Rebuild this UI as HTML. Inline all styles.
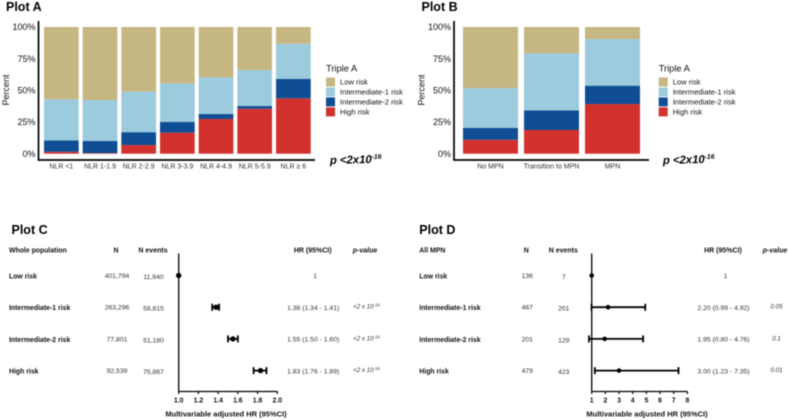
<!DOCTYPE html>
<html>
<head>
<meta charset="utf-8">
<title>Triple A risk plots</title>
<style>
html,body{margin:0;padding:0;background:#fff;width:790px;height:420px;overflow:hidden}
svg{display:block;filter:blur(0.4px)}
text{font-family:"Liberation Sans",Arial,sans-serif}
</style>
</head>
<body>
<svg id="fig" xmlns="http://www.w3.org/2000/svg" width="790" height="420" viewBox="0 0 790 420">
<text x="6" y="11" font-size="12.5" font-weight="bold" fill="#000">Plot A</text>
<text x="421.5" y="11" font-size="12.5" font-weight="bold" fill="#000">Plot B</text>
<text x="11.5" y="234" font-size="12.5" font-weight="bold" fill="#000">Plot C</text>
<text x="419.3" y="234" font-size="12.5" font-weight="bold" fill="#000">Plot D</text>
<text x="330" y="164" font-size="11.3" font-weight="bold" font-style="italic" fill="#000" transform="rotate(-1.5 330 164)">p &lt;2x10<tspan font-size="6.8" dy="-4">-16</tspan></text>
<text x="663" y="164" font-size="11.3" font-weight="bold" font-style="italic" fill="#000" transform="rotate(-1.5 663 164)">p &lt;2x10<tspan font-size="6.8" dy="-4">-16</tspan></text>
</svg>
<script>
// Plot A data (percent, stacked from the bottom)
var catsA = ['NLR <1','NLR 1-1.9','NLR 2-2.9','NLR 3-3.9','NLR 4-4.9','NLR 5-5.9','NLR \u2265 6'];
var highA = [1.5,0.5,6.8,16.6,27.4,35.5,43.7];
var int2A = [9,9.5,10.2,8.4,3.9,2.1,15.3];
var int1A = [32.5,32.4,32,30.5,29,28.4,27.8];
var lowA  = [57,57.6,51,44.5,39.7,34,13.2];
// Plot B data
var catsB = ['No MPN','Transition to MPN','MPN'];
var highB = [11,18.7,39.2];
var int2B = [9.3,15.5,14.5];
var int1B = [31.5,45,36.8];
var lowB  = [48.2,20.8,9.5];
var yTickValues = [0,25,50,75,100];
var riskNames = ['Low risk','Intermediate-1 risk','Intermediate-2 risk','High risk'];
var riskColors = ['#c6b682','#9bcbdd','#0f4e94','#d3312e'];
// Plot C data
var rowNames = ['Low risk','Intermediate-1 risk','Intermediate-2 risk','High risk'];
var nC = ['401,794','263,296','77,801','92,539'];
var eventsC = ['11,940','58,815','51,180','75,867'];
var hrTextC = ['1','1.38 (1.34 - 1.41)','1.55 (1.50 - 1.60)','1.83 (1.76 - 1.89)'];
var pBaseC = ['','<2 x 10','<2 x 10','<2 x 10'];
var pExpC = ['','-16','-16','-16'];
var hrC = [1,1.38,1.55,1.83];
var loC = [1,1.34,1.50,1.76];
var hiC = [1,1.41,1.60,1.89];
var xTicksC = [1.0,1.2,1.4,1.6,1.8,2.0];
// Plot D data
var nD = ['136','467','201','479'];
var eventsD = ['7','201','129','423'];
var hrTextD = ['1','2.20 (0.99 - 4.92)','1.95 (0.80 - 4.76)','3.00 (1.23 - 7.35)'];
var pBaseD = ['','0.05','0.1','0.01'];
var pExpD = ['','','',''];
var hrD = [1,2.20,1.95,3.00];
var loD = [1,0.99,0.80,1.23];
var hiD = [1,4.92,4.76,7.35];
var xTicksD = [1,2,3,4,5,6,7,8];

var svg = document.getElementById('fig');
var NS = 'http://www.w3.org/2000/svg';
function mk(tag, attrs, parent){
  var e = document.createElementNS(NS, tag);
  for (var k in attrs) e.setAttribute(k, attrs[k]);
  (parent || svg).appendChild(e);
  return e;
}
function txt(s, x, y, size, anchor, fill, weight, style){
  var t = mk('text', {x:x, y:y, 'font-size':size, 'text-anchor':anchor || 'start', fill:fill || '#111', 'font-weight':weight || 'normal', 'font-style':style || 'normal'});
  t.textContent = s;
  return t;
}

function stacked(opts){
  var yOf = function(v){ return 153.7 - v * 1.267; };
  var xOf = function(i){ return opts.x0 + i * opts.step; };
  var ax = mk('path', {d:'M'+opts.axisX+' 21V160H'+opts.axisEnd, fill:'none', stroke:'#000', 'stroke-width':1.7});
  
  
  yTickValues.forEach(function(v){
    var t = txt(v + '%', opts.axisX - 3, yOf(v) + 3.2, 9, 'end', '#111');
    
    
  });
  var yt = txt('Percent', 0, 0, 9, 'middle', '#111');
  yt.setAttribute('transform', 'translate(' + (opts.axisX - 29.5) + ' 90) rotate(-90)');
  
  
  opts.cats.forEach(function(c, i){
    var cum = 0;
    var parts = [opts.high[i], opts.int2[i], opts.int1[i], opts.low[i]];
    var cols = [3, 2, 1, 0];
    parts.forEach(function(v, j){
      var r = mk('rect', {x:xOf(i), y:yOf(cum + v), width:opts.w, height:v * 1.267, fill:riskColors[cols[j]]});
      
      
      cum += v;
    });
    var l = txt(c, xOf(i) + opts.w / 2, 168.3, 7, 'middle', '#333');
    
    
  });
  var lt = txt('Triple A', opts.legX, 71.5, 9.3, 'start', '#111');
  
  
  riskNames.forEach(function(n, i){
    var s = mk('rect', {x:opts.legX, y:77.5 + i * 9.95, width:9, height:9, fill:riskColors[i]});
    
    
    var t = txt(n, opts.legX + 14, 84.7 + i * 9.95, 7.6, 'start', '#111');
    
    
  });
}

stacked({id:'plot-a', cats:catsA, high:highA, int2:int2A, int1:int1A, low:lowA, x0:44, step:38.67, w:34.7, axisX:38.5, axisEnd:315, legX:326});
stacked({id:'plot-b', cats:catsB, high:highB, int2:int2B, int1:int1B, low:lowB, x0:463, step:61, w:55, axisX:454, axisEnd:649, legX:658.7});

function forest(o){
  var xOf = function(v){ return o.x1 + (v - o.v0) * o.scale; };
  var rowY = function(i){ return 275.5 + i * 31.7; };
  var heads = [['N', o.nX, 'middle', 'normal'], ['N events', o.evX, 'middle', 'normal'], ['HR (95%CI)', o.hrX, 'middle', 'normal'], ['p-value', o.pX, 'middle', 'italic']];
  var h0 = txt(o.head, o.labX, 252.7, 6.9, 'start', '#111', 'bold');
  
  
  heads.forEach(function(h){
    var t = txt(h[0], h[1], 252.7, 7, h[2], '#111', 'bold', h[3]);
    
    
  });
  rowNames.forEach(function(n, i){
    var y = rowY(i) + 3;
    var a = txt(n, o.labX, y, 6.9, 'start', '#111', 'bold');
    
    
    var b = txt(o.n[i], o.nX + 1, y - 0.5, 6.8, 'middle', '#333');
    
    
    var c = txt(o.ev[i], o.evX + 0.5, y + 0.5, 6.8, 'middle', '#333');
    
    
    var d = txt(o.hrText[i], i === 0 ? o.hrX + 2.5 : o.hrX + 0.5, y - 0.3, 6.8, 'middle', '#333');
    
    
    if (o.pBase[i]) {
      var p = txt(o.pBase[i], o.pX + 1.5, y - 1.5, 6.2, 'middle', '#333', 'normal', 'italic');
      
      
      if (o.pExp[i]) {
        var sup = mk('tspan', {'font-size':4.4, dy:-2}, p);
        sup.textContent = o.pExp[i];
      }
    }
    if (o.hi[i] !== o.lo[i]) {
      var ci = mk('path', {d:'M'+xOf(o.lo[i])+' '+rowY(i)+'H'+xOf(o.hi[i])+'M'+xOf(o.lo[i])+' '+(rowY(i)-3.5)+'v7M'+xOf(o.hi[i])+' '+(rowY(i)-3.5)+'v7', fill:'none', stroke:'#000', 'stroke-width':1.8});
      
      
    }
    var pt = mk('circle', {cx:xOf(o.hr[i]), cy:rowY(i), r:o.r, fill:'#000'});
    
    
  });
  var ax = mk('path', {d:'M'+o.x1+' 253.5V391.5M'+xOf(o.ticks[0])+' 391.5H'+xOf(o.ticks[o.ticks.length-1]), fill:'none', stroke:'#000', 'stroke-width':1.3});
  
  
  o.ticks.forEach(function(v){
    var tk = mk('line', {x1:xOf(v), x2:xOf(v), y1:391.5, y2:394, stroke:'#000', 'stroke-width':1.2});
    
    
    var l = txt(o.dec ? v.toFixed(1) : String(v), xOf(v), 402.7, 6.9, 'middle', '#111', 'bold');
    
    
  });
  var title = txt('Multivariable adjusted HR (95%CI)', o.titleX, 416.5, 7.5, 'middle', '#111', 'bold');
  
  
}

forest({id:'plot-c', head:'Whole population', labX:9, nX:116, evX:153, hrX:312.7, pX:365, n:nC, ev:eventsC, hrText:hrTextC, pBase:pBaseC, pExp:pExpC, hr:hrC, lo:loC, hi:hiC, ticks:xTicksC, dec:true, x1:178.7, v0:1, scale:98.6, r:2.7, titleX:226});
forest({id:'plot-d', head:'All  MPN', labX:419.3, nX:526.3, evX:563.3, hrX:723, pX:775, n:nD, ev:eventsD, hrText:hrTextD, pBase:pBaseD, pExp:pExpD, hr:hrD, lo:loD, hi:hiD, ticks:xTicksD, dec:false, x1:591.7, v0:1, scale:13.67, r:2.3, titleX:647});
</script>
</body>
</html>
